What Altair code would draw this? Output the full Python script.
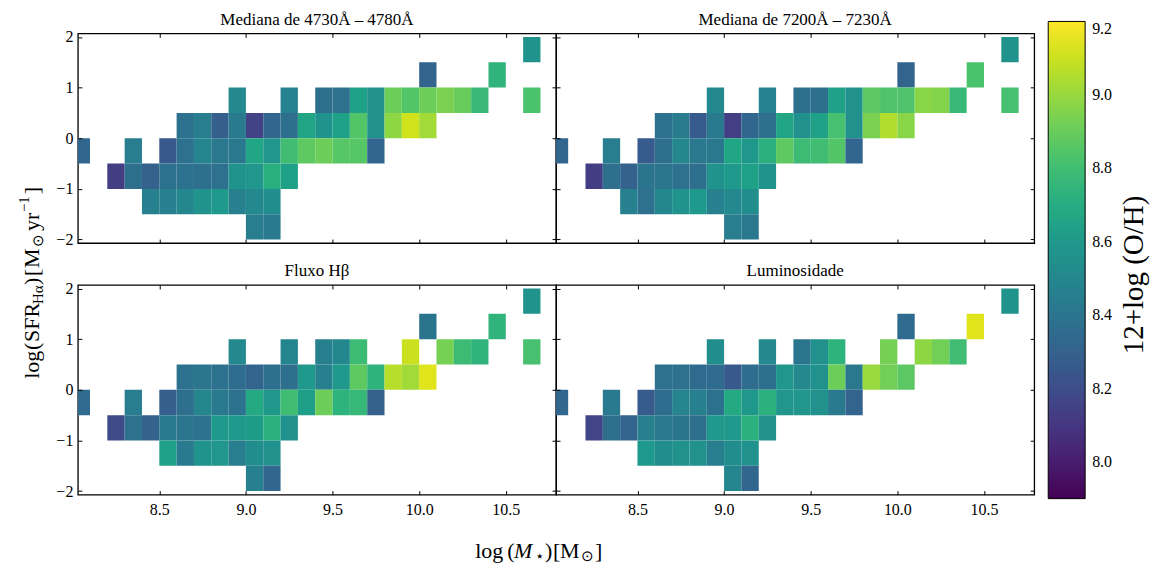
import altair as alt
import pandas as pd

SERIF = "Liberation Serif"

# ---------------- data ----------------
# left edges of the mass bins (log M*) and of the SFR bins (log SFR)
X_BINS = [8.0, 8.1, 8.2, 8.3, 8.4, 8.5, 8.6, 8.7, 8.8, 8.9, 9.0, 9.1, 9.2, 9.3,
          9.4, 9.5, 9.6, 9.7, 9.8, 9.9, 10.0, 10.1, 10.2, 10.3, 10.4, 10.5, 10.6, 10.7]
Y_BINS = [1.5, 1.0, 0.5, 0.0, -0.5, -1.0, -1.5, -2.0]
X_STEP = 0.1
Y_STEP = 0.5

X_TICKS = [8.5, 9.0, 9.5, 10.0, 10.5]
Y_TICKS = [-2, -1, 0, 1, 2]
CBAR_TICKS = [8.0, 8.2, 8.4, 8.6, 8.8, 9.0, 9.2]
X_DOMAIN = [8.03, 10.79]
Y_DOMAIN = [-2.07, 2.07]
OH_DOMAIN = [7.9, 9.2]

TITLES = ["Mediana de 4730Å – 4780Å", "Mediana de 7200Å – 7230Å",
          "Fluxo Hβ", "Luminosidade"]
CBAR_TITLE = "12+log (O/H)"

# 12+log(O/H) per cell: SFR-bin lower edge -> {mass-bin index: value}
OH_4730 = {
    1.5: {26: 8.56},
    1.0: {20: 8.31, 24: 8.75},
    0.5: {9: 8.51, 12: 8.47, 14: 8.37, 15: 8.38, 16: 8.64, 17: 8.55, 18: 8.91,
          19: 8.85, 20: 8.91, 21: 8.94, 22: 8.90, 23: 8.78, 26: 8.83},
    0.0: {6: 8.39, 7: 8.45, 8: 8.29, 9: 8.43, 10: 8.15, 11: 8.33, 12: 8.37,
          13: 8.67, 14: 8.56, 15: 8.64, 16: 8.85, 17: 8.55, 18: 8.98, 19: 9.11, 20: 9.02},
    -0.5: {0: 8.33, 3: 8.45, 5: 8.26, 6: 8.38, 7: 8.49, 8: 8.42, 9: 8.42, 10: 8.67,
           11: 8.58, 12: 8.80, 13: 8.88, 14: 8.91, 15: 8.86, 16: 8.86, 17: 8.33},
    -1.0: {2: 8.13, 3: 8.37, 4: 8.30, 5: 8.39, 6: 8.39, 7: 8.37, 8: 8.38, 9: 8.56,
           10: 8.58, 11: 8.72, 12: 8.64},
    -1.5: {4: 8.46, 5: 8.46, 6: 8.50, 7: 8.56, 8: 8.60, 9: 8.46, 10: 8.51, 11: 8.53},
    -2.0: {10: 8.45, 11: 8.43},
}
OH_7200 = {
    1.5: {26: 8.56},
    1.0: {20: 8.31, 24: 8.83},
    0.5: {9: 8.51, 12: 8.47, 14: 8.37, 15: 8.37, 16: 8.64, 17: 8.55, 18: 8.87,
          19: 8.84, 20: 8.84, 21: 8.97, 22: 8.96, 23: 8.78, 26: 8.82},
    0.0: {6: 8.39, 7: 8.44, 8: 8.27, 9: 8.43, 10: 8.14, 11: 8.33, 12: 8.37,
          13: 8.67, 14: 8.55, 15: 8.64, 16: 8.82, 17: 8.55, 18: 8.94, 19: 9.05, 20: 8.97},
    -0.5: {0: 8.33, 3: 8.45, 5: 8.27, 6: 8.37, 7: 8.50, 8: 8.42, 9: 8.42, 10: 8.67,
           11: 8.59, 12: 8.73, 13: 8.88, 14: 8.79, 15: 8.80, 16: 8.85, 17: 8.33},
    -1.0: {2: 8.13, 3: 8.37, 4: 8.30, 5: 8.40, 6: 8.41, 7: 8.38, 8: 8.37, 9: 8.56,
           10: 8.60, 11: 8.64, 12: 8.56},
    -1.5: {4: 8.46, 5: 8.38, 6: 8.50, 7: 8.57, 8: 8.60, 9: 8.46, 10: 8.51, 11: 8.53},
    -2.0: {10: 8.45, 11: 8.42},
}
OH_HBETA = {
    1.5: {26: 8.56},
    1.0: {20: 8.40, 24: 8.75},
    0.5: {9: 8.51, 12: 8.49, 14: 8.46, 15: 8.50, 16: 8.79, 19: 9.10, 21: 8.93,
          22: 8.79, 23: 8.75, 26: 8.82},
    0.0: {6: 8.39, 7: 8.41, 8: 8.39, 9: 8.36, 10: 8.31, 11: 8.37, 12: 8.37,
          13: 8.60, 14: 8.46, 15: 8.60, 16: 8.88, 17: 8.74, 18: 9.06, 19: 9.02, 20: 9.14},
    -0.5: {0: 8.35, 3: 8.45, 5: 8.29, 6: 8.37, 7: 8.50, 8: 8.43, 9: 8.39, 10: 8.69,
           11: 8.59, 12: 8.80, 13: 8.63, 14: 8.91, 15: 8.74, 16: 8.77, 17: 8.30},
    -1.0: {2: 8.19, 3: 8.38, 4: 8.30, 5: 8.43, 6: 8.41, 7: 8.39, 8: 8.60, 9: 8.60,
           10: 8.61, 11: 8.73, 12: 8.55},
    -1.5: {5: 8.64, 6: 8.43, 7: 8.56, 8: 8.58, 9: 8.45, 10: 8.53, 11: 8.55},
    -2.0: {10: 8.46, 11: 8.33},
}
OH_LUM = {
    1.5: {26: 8.56},
    1.0: {20: 8.35, 24: 9.14},
    0.5: {9: 8.53, 12: 8.51, 14: 8.41, 15: 8.55, 16: 8.74, 19: 8.93, 21: 8.98,
          22: 8.92, 23: 8.80},
    0.0: {6: 8.38, 7: 8.38, 8: 8.35, 9: 8.35, 10: 8.26, 11: 8.36, 12: 8.37,
          13: 8.59, 14: 8.51, 15: 8.55, 16: 8.91, 17: 8.42, 18: 9.00, 19: 8.92, 20: 8.87},
    -0.5: {0: 8.33, 3: 8.43, 5: 8.27, 6: 8.36, 7: 8.48, 8: 8.46, 9: 8.39, 10: 8.69,
           11: 8.59, 12: 8.73, 13: 8.58, 14: 8.58, 15: 8.55, 16: 8.43, 17: 8.31},
    -1.0: {2: 8.16, 3: 8.37, 4: 8.31, 5: 8.46, 6: 8.42, 7: 8.40, 8: 8.37, 9: 8.60,
           10: 8.60, 11: 8.73, 12: 8.55},
    -1.5: {5: 8.60, 6: 8.53, 7: 8.55, 8: 8.55, 9: 8.45, 10: 8.53, 11: 8.55},
    -2.0: {10: 8.49, 11: 8.33},
}

# ---------------- layout (pixels) ----------------
FIG_W, FIG_H = 1168, 563
LEFT, TOP = 77, 32
W, H, VGAP = 479, 210, 42
ROW2_Y = TOP + H + VGAP

# axis-title pieces (text, abs x, size, style, baseline shift) for log(M*)[Msun]
XT_BASE = 557.5
XT_PIECES = [
    ("log", 475, 22, "normal", 0),
    ("(", 507, 22, "normal", 0),
    ("M", 514, 22, "italic", 0),
    ("⋆", 535, 15, "normal", 2.5),
    (")", 545, 22, "normal", 0),
    ("[", 553, 22, "normal", 0),
    ("M", 560, 22, "normal", 0),
    ("⊙", 581, 15, "normal", 2.5),
    ("]", 595, 22, "normal", 0),
]
# (text, abs y where piece starts reading upward, size, abs baseline x)
YT_PIECES = [
    ("log", 378, 22, 38),
    ("(", 349, 22, 38),
    ("SFR", 341, 22, 38),
    ("Hα", 303, 15, 42),
    (")", 284, 22, 38),
    ("[", 275, 22, 38),
    ("M", 267, 22, 38),
    ("⊙", 246, 15, 42),
    ("yr", 230, 22, 38),
    ("−1", 211, 15, 28),
    ("]", 193, 22, 38),
]
CBAR_TITLE_XY = (1135, 274)

xs = alt.Scale(domain=X_DOMAIN, nice=False, zero=False)
ys = alt.Scale(domain=Y_DOMAIN, nice=False, zero=False)

color_enc = alt.Color(
    "oh:Q",
    scale=alt.Scale(scheme="viridis", domain=OH_DOMAIN),
    legend=alt.Legend(
        orient="none", legendX=1049 - LEFT, legendY=20 - TOP, direction="vertical",
        gradientLength=478, gradientThickness=37,
        gradientStrokeColor="black", gradientStrokeWidth=1,
        values=CBAR_TICKS, format=".1f",
        labelFont=SERIF, labelFontSize=16, labelColor="black", labelOffset=7,
        title=None, padding=0,
    ),
)


def frame(cells):
    rows = []
    for yb, d in cells.items():
        for k, v in d.items():
            rows.append({"x0": X_BINS[k], "x1": X_BINS[k] + X_STEP,
                         "y0": yb, "y1": yb + Y_STEP, "oh": v})
    return pd.DataFrame(rows)


def axis(orient, labels):
    kw = dict(orient=orient, labels=labels, domain=False, grid=False, ticks=True,
              tickSize=4, tickWidth=1, tickColor="black", offset=-4, title=None,
              labelFont=SERIF, labelFontSize=16, labelColor="black", zindex=2)
    if orient in ("bottom", "top"):
        kw.update(values=X_TICKS, format=".1f", labelPadding=7)
    else:
        kw.update(values=Y_TICKS, format="d", labelPadding=5)
    return alt.Axis(**kw)


ONE = pd.DataFrame({"k": [0]})


def label(text, px, py, size, angle=0, style="normal", align="left",
          baseline="alphabetic"):
    return alt.Chart(ONE).mark_text(
        text=text, font=SERIF, fontSize=size, fontStyle=style, angle=angle,
        align=align, baseline=baseline, color="black",
    ).encode(x=alt.value(px), y=alt.value(py))


def panel(cells, title, show_x, show_y, extra=()):
    base = alt.Chart(frame(cells))
    heat = base.mark_rect(clip=True).encode(
        x=alt.X("x0:Q", scale=xs, axis=axis("bottom", show_x)),
        x2="x1:Q",
        y=alt.Y("y0:Q", scale=ys, axis=axis("left", show_y)),
        y2="y1:Q",
        color=color_enc,
    )
    frame_ticks = base.mark_rect(clip=True, opacity=0).encode(
        x=alt.X("x0:Q", scale=xs, axis=axis("top", False)),
        x2="x1:Q",
        y=alt.Y("y0:Q", scale=ys, axis=axis("right", False)),
        y2="y1:Q",
    )
    ttl = label(title, W / 2, -8.7, 17, align="center")
    return alt.layer(heat, frame_ticks, ttl, *extra).properties(width=W, height=H)


# invisible rectangle fixing the full figure extent (layout only)
extent = alt.Chart(ONE).mark_rect(opacity=0).encode(
    x=alt.value(-LEFT), x2=alt.value(FIG_W - LEFT),
    y=alt.value(-TOP), y2=alt.value(FIG_H - TOP),
)

axis_titles = []
for t, ax, sz, st, dy in XT_PIECES:
    axis_titles.append(label(t, ax - LEFT, XT_BASE + dy - ROW2_Y, sz, style=st))
for t, ay, sz, bx in YT_PIECES:
    axis_titles.append(label(t, bx - LEFT, ay - ROW2_Y, sz, angle=270))

cbar_title = label(CBAR_TITLE, CBAR_TITLE_XY[0] - LEFT - W, CBAR_TITLE_XY[1] - TOP,
                   29, angle=270, align="center", baseline="middle")

p1 = panel(OH_4730, TITLES[0], False, True, extra=(extent,))
p2 = panel(OH_7200, TITLES[1], False, False, extra=(cbar_title,))
p3 = panel(OH_HBETA, TITLES[2], True, True, extra=tuple(axis_titles))
p4 = panel(OH_LUM, TITLES[3], True, False)

chart = alt.concat(
    p1, p2, p3, p4, columns=2, bounds="flush",
    spacing={"row": VGAP, "column": 0},
).properties(padding=0).configure_view(stroke="black", strokeWidth=1.3)

chart.save("out.html", embed_options={"renderer": "svg", "actions": False})
